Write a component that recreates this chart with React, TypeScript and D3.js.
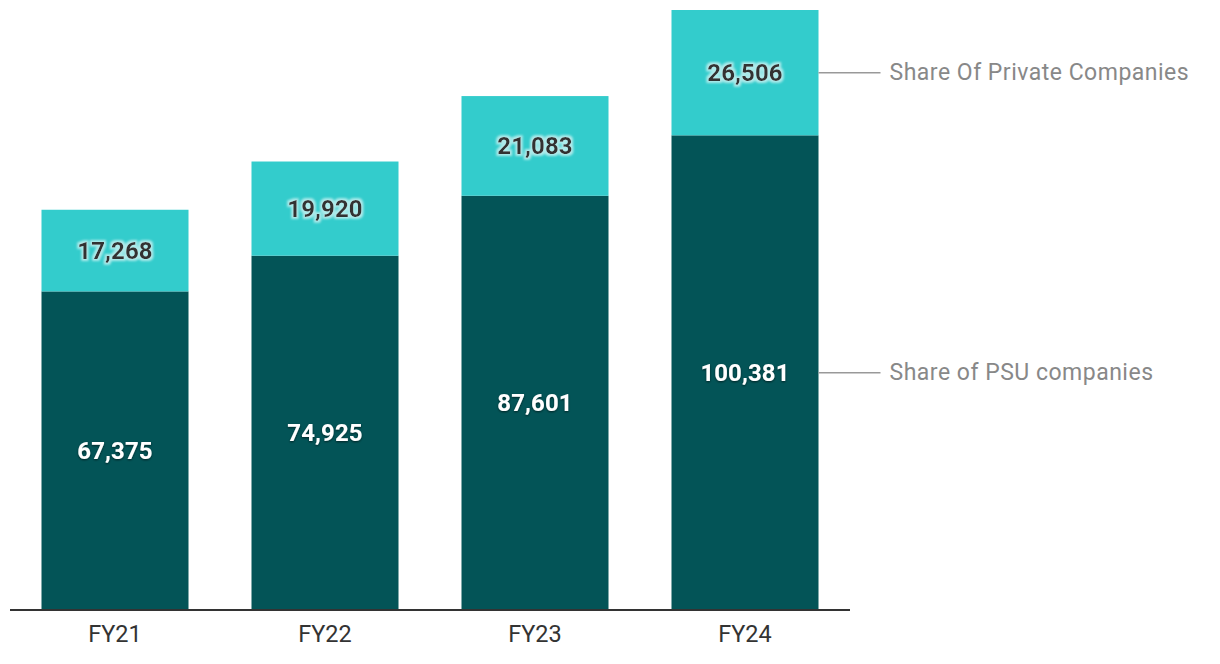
import React from "react";
import * as d3 from "d3";

const categories = ["FY21", "FY22", "FY23", "FY24"];
const psuValues = [67375, 74925, 87601, 100381];
const privateValues = [17268, 19920, 21083, 26506];
const seriesNames = ["Share of PSU companies", "Share Of Private Companies"];
const seriesColors = ["#035457", "#33CCCC"];

const W = 1220;
const H = 664;

export default function App() {
  const x = d3.scaleBand<string>().domain(categories).range([10, 850]).paddingInner(0.3).paddingOuter(0.15);
  const totals = categories.map((_, i) => psuValues[i] + privateValues[i]);
  const y = d3.scaleLinear().domain([0, d3.max(totals) as number]).range([610, 10]);
  const fmt = d3.format(",");
  const stack = d3.stack<number>().keys(["psu", "priv"]).value((i, k) => (k === "psu" ? psuValues[i] : privateValues[i]));
  const series = stack(categories.map((_, i) => i));
  const last = categories.length - 1;
  const font = "Roboto, 'Noto Sans', sans-serif";

  return (
    <svg width={W} height={H} style={{ position: "absolute", left: 0, top: 0 }} fontFamily={font}>
      <defs>
        <filter id="shadowDark" x="-20%" y="-50%" width="140%" height="200%">
          <feDropShadow dx="0" dy="1" stdDeviation="1.2" floodColor="#000" floodOpacity="0.6" />
        </filter>
        <filter id="glowLight" x="-20%" y="-50%" width="140%" height="200%">
          <feMorphology in="SourceAlpha" operator="dilate" radius="1.5" result="d" />
          <feGaussianBlur in="d" stdDeviation="1.2" result="b" />
          <feFlood floodColor="#ffffff" floodOpacity="0.6" />
          <feComposite in2="b" operator="in" result="g" />
          <feMerge>
            <feMergeNode in="g" />
            <feMergeNode in="SourceGraphic" />
          </feMerge>
        </filter>
      </defs>
      {series.map((s, si) =>
        s.map((d, i) => (
          <rect
            key={`${si}-${i}`}
            x={x(categories[i])}
            y={y(d[1])}
            width={x.bandwidth()}
            height={y(d[0]) - y(d[1])}
            fill={seriesColors[si]}
          />
        ))
      )}
      {series.map((s, si) =>
        s.map((d, i) => (
          <text
            key={`t${si}-${i}`}
            x={(x(categories[i]) as number) + x.bandwidth() / 2}
            y={(y(d[0]) + y(d[1])) / 2}
            textAnchor="middle"
            dominantBaseline="central"
            fontSize={24}
            fontWeight="bold"
            letterSpacing={0.1}
            fill={si === 0 ? "#ffffff" : "#333333"}
            filter={si === 0 ? "url(#shadowDark)" : "url(#glowLight)"}
          >
            {fmt(d[1] - d[0])}
          </text>
        ))
      )}
      <line x1={10} x2={850} y1={610} y2={610} stroke="#333" strokeWidth={2} />
      {categories.map((c) => (
        <text
          key={c}
          x={(x(c) as number) + x.bandwidth() / 2}
          y={634}
          textAnchor="middle"
          dominantBaseline="central"
          fontSize={23.5}
          fill="#333"
        >
          {c}
        </text>
      ))}
      {series.map((s, si) => {
        const d = s[last];
        const yy = (y(d[0]) + y(d[1])) / 2;
        const x0 = (x(categories[last]) as number) + x.bandwidth();
        return (
          <g key={`l${si}`}>
            <line x1={x0} x2={x0 + 62} y1={yy} y2={yy} stroke="#999" strokeWidth={1.5} />
            <text x={x0 + 71} y={yy} dominantBaseline="central" fontSize={23} letterSpacing={0.5} fill="#888">
              {seriesNames[si]}
            </text>
          </g>
        );
      })}
    </svg>
  );
}
